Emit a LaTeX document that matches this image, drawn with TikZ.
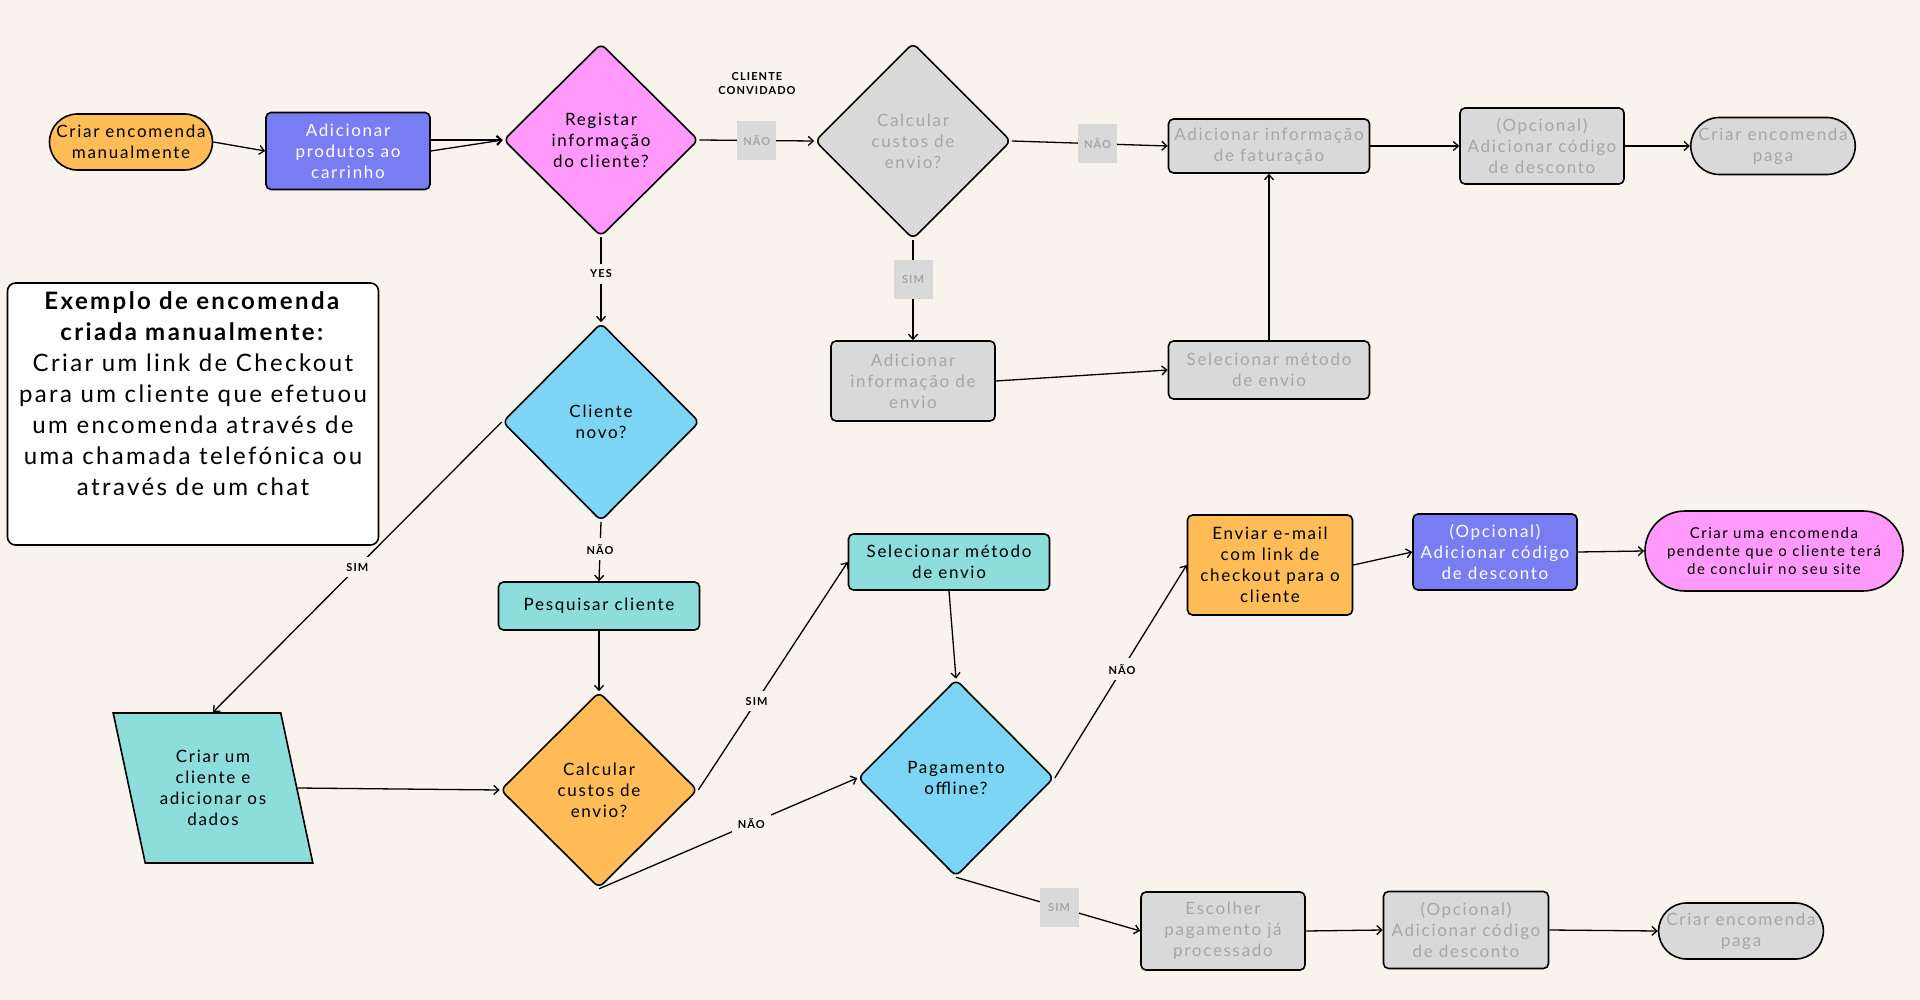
\documentclass[tikz,border=0pt]{standalone}
\usepackage{fontspec}
\setmainfont{Lato}[LetterSpace=10]
\usetikzlibrary{shapes.geometric,shapes.misc,arrows.meta,positioning,calc}

\definecolor{bgcream}{HTML}{F8F4ED}
\definecolor{orangebox}{HTML}{FFBC57}
\definecolor{violetbox}{HTML}{787DF4}
\definecolor{pinkbox}{HTML}{FF99FC}
\definecolor{bluebox}{HTML}{7DD5F5}
\definecolor{tealbox}{HTML}{8CDDDB}
\definecolor{greybox}{HTML}{D9D9D9}
\definecolor{greytext}{HTML}{A6A6A6}

\tikzset{
  txt/.style={font=\fontsize{17}{21}\selectfont, align=center},
  box/.style={txt, draw, line width=1.6pt, rounded corners=5pt, inner sep=1pt},
  decision/.style={txt, draw, diamond, line width=1.6pt, rounded corners=6pt, inner sep=0pt},
  terminal/.style={txt, draw, rounded rectangle, line width=1.6pt, inner sep=1pt},
  faded/.style={fill=greybox, text=greytext},
  tag/.style={fill=bgcream, font=\bfseries\fontsize{11}{13}\selectfont, inner sep=6pt},
  greytag/.style={fill=greybox, text=greytext, font=\bfseries\fontsize{11}{13}\selectfont, minimum size=39pt, inner sep=0pt}
}

\begin{document}
\begin{tikzpicture}[x=1pt, y=-1pt, line width=1.3pt, >={Straight Barb[length=5pt,width=9pt]}]
 \fill[bgcream] (0,0) rectangle (1920,1000);
 \useasboundingbox (0,0) rectangle (1920,1000);

 % top row
 \node[terminal, fill=orangebox, minimum width=165pt, minimum height=56pt] (start) at (131,142) {Criar encomenda\\manualmente};
 \node[box, fill=violetbox, text=white, minimum width=164pt, minimum height=77pt] (addcart) at (348,151) {Adicionar\\produtos ao\\carrinho};
 \node[decision, fill=pinkbox, minimum width=195pt, minimum height=193pt] (regdec) at (601,140) {Registar\\informação\\do cliente?};
 \node[font=\bfseries\fontsize{11}{14}\selectfont, align=center] (guest) at (757,84) {CLIENTE\\CONVIDADO};
 \node[decision, faded, minimum width=196pt, minimum height=196pt] (guestcalc) at (913,141) {Calcular\\custos de\\envio?};
 \node[box, faded, minimum width=201pt, minimum height=54pt] (billing) at (1269,146) {Adicionar informação\\de faturação};
 \node[box, faded, minimum width=164pt, minimum height=76pt] (discount1) at (1542,146) {(Opcional)\\Adicionar código\\de desconto};
 \node[terminal, faded, minimum width=164pt, minimum height=57pt] (paidend1) at (1773,146) {Criar encomenda\\paga};
 \node[box, faded, minimum width=164pt, minimum height=80pt] (shipinfo) at (913,381) {Adicionar\\informação de\\envio};
 \node[box, faded, minimum width=201pt, minimum height=58pt] (shipmethod1) at (1269,370) {Selecionar método\\de envio};

 \draw[->] (start.east) -- (addcart.west);
 \draw[->] (addcart.east |- regdec.west) -- (regdec.west);
 \draw[->] (addcart.east) -- (regdec.west);
 \draw[->] (regdec.east) -- node[greytag] {NÃO} (guestcalc.west);
 \draw[->] (guestcalc.east) -- node[greytag, pos=0.55] {NÃO} (billing.west);
 \draw[->] (billing.east) -- (discount1.west);
 \draw[->] (discount1.east) -- (paidend1.west);
 \draw[->] (guestcalc.south) -- node[greytag, pos=0.4] {SIM} (shipinfo.north);
 \draw[->] (shipinfo.east) -- (shipmethod1.west);
 \draw[->] (shipmethod1.north) -- (billing.south);

 % info box
 \node[draw, fill=white, rounded corners=8pt, line width=1.6pt, minimum width=371pt, minimum height=262pt] (info) at (193,414) {};
 \node[anchor=north, align=center, font=\fontsize{24}{31}\selectfont] (infotext) at ($(info.north)+(0,-5pt)$)
   {\textbf{Exemplo de encomenda}\\\textbf{criada manualmente:}\\Criar um link de Checkout\\para um cliente que efetuou\\um encomenda através de\\uma chamada telefónica ou\\através de um chat};

 % lower part
 \node[decision, fill=bluebox, minimum width=197pt, minimum height=198pt] (newdec) at (601,422) {Cliente\\novo?};
 \node[box, fill=tealbox, minimum width=201pt, minimum height=48pt] (search) at (599,606) {Pesquisar cliente};
 \node[txt, draw, trapezium, trapezium left angle=108, trapezium right angle=72, trapezium stretches=true,
   fill=tealbox, line width=1.6pt, minimum width=200pt, minimum height=150pt] (newclient) at (213,788) {Criar um\\cliente e\\adicionar os\\dados};
 \node[decision, fill=orangebox, minimum width=197pt, minimum height=196pt] (calcdec) at (599,790) {Calcular\\custos de\\envio?};
 \node[box, fill=tealbox, minimum width=201pt, minimum height=56pt] (shipmethod2) at (949,562) {Selecionar método\\de envio};
 \node[decision, fill=bluebox, minimum width=196pt, minimum height=197pt] (offlinedec) at (956,778) {Pagamento\\offline?};
 \node[box, fill=orangebox, minimum width=165pt, minimum height=100pt] (sendmail) at (1270,565) {Enviar e-mail\\com link de\\checkout para o\\cliente};
 \node[box, fill=violetbox, text=white, minimum width=164pt, minimum height=76pt] (discount2) at (1495,552) {(Opcional)\\Adicionar código\\de desconto};
 \node[terminal, fill=pinkbox, minimum width=260pt, minimum height=80pt, font=\fontsize{15}{18}\selectfont] (pendingend) at (1774,551) {Criar uma encomenda\\pendente que o cliente terá\\de concluir no seu site};
 \node[box, faded, minimum width=164pt, minimum height=78pt] (choosepay) at (1223,931) {Escolher\\pagamento já\\processado};
 \node[box, faded, minimum width=165pt, minimum height=77pt] (discount3) at (1466,930) {(Opcional)\\Adicionar código\\de desconto};
 \node[terminal, faded, minimum width=164pt, minimum height=56pt] (paidend2) at (1741,931) {Criar encomenda\\paga};

 \draw[->] (regdec.south) -- node[tag, pos=0.43] {YES} (newdec.north);
 \draw[->] (newdec.south) -- node[tag, pos=0.46] {NÃO} (search.north);
 \draw[->] (newdec.west) -- node[tag] {SIM} (newclient.north);
 \draw[->] (search.south) -- (calcdec.north);
 \draw[->] (newclient.east) -- (calcdec.west);
 \draw[->] (calcdec.east) -- node[tag, pos=0.39] {SIM} (shipmethod2.west);
 \draw[->] (calcdec.south) -- node[tag, pos=0.59] {NÃO} (offlinedec.west);
 \draw[->] (shipmethod2.south) -- (offlinedec.north);
 \draw[->] (offlinedec.east) -- node[tag, pos=0.51] {NÃO} (sendmail.west);
 \draw[->] (sendmail.east) -- (discount2.west);
 \draw[->] (discount2.east) -- (pendingend.west);
 \draw[->] (offlinedec.south) -- node[greytag, pos=0.56] {SIM} (choosepay.west);
 \draw[->] (choosepay.east) -- (discount3.west);
 \draw[->] (discount3.east) -- (paidend2.west);
\end{tikzpicture}
\end{document}
